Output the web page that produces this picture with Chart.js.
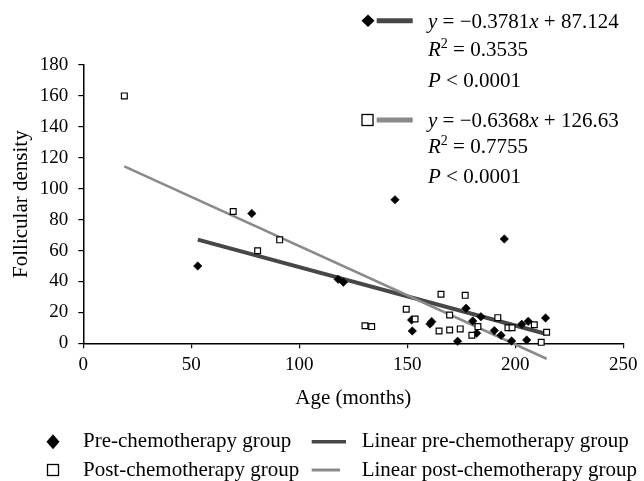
<!DOCTYPE html>
<html>
<head>
<meta charset="utf-8">
<script src="https://cdn.jsdelivr.net/npm/chart.js@4.4.1/dist/chart.umd.min.js"></script>
<style>
html,body{margin:0;padding:0;background:#ffffff;}
#wrap{width:644px;height:481px;position:relative;}
</style>
</head>
<body>
<div id="wrap"><canvas id="c" width="644" height="481"></canvas></div>
<script>
// ---- data ----
const preAge     = [53, 78, 118, 120.4, 144.3, 194.9, 152, 152.3, 160.5, 161.3, 173.3, 177.2, 180.3, 182.1, 184.1, 190.3, 193.4, 198.3, 203, 205.3, 206, 214];
const preDensity = [50, 84, 41.4, 39.5, 92.8, 67.5, 15.1, 8, 12.5, 14, 1.3, 22.6, 14.4, 6.5, 17.2, 8.2, 5.2, 1.5, 12.3, 2.1, 14.2, 16.4];
const postAge     = [19, 69.4, 80.7, 90.9, 130.4, 133.5, 149.5, 153.6, 165.6, 164.7, 169.6, 169.6, 174.5, 176.8, 179.9, 182.7, 191.9, 196.6, 198.5, 208.8, 212, 214.5];
const postDensity = [160, 85.2, 59.9, 66.9, 11.4, 10.8, 22, 15.7, 31.7, 8, 18.3, 8.6, 9.3, 31, 5.2, 10.8, 16.6, 10.1, 10.1, 12, 0.6, 7.1];
// regression line end points (from y = -0.3781x + 87.124 and y = -0.6368x + 126.63)
const preTrendAge      = [53, 214];
const preTrendDensity  = [67.1, 6.2];
const postTrendAge     = [19, 214.5];
const postTrendDensity = [114.5, -10.0];
// axis ticks
const xTickValues = [0, 50, 100, 150, 200, 250];
const yTickValues = [0, 20, 40, 60, 80, 100, 120, 140, 160, 180];
// texts
const seriesNames = ['Pre-chemotherapy group', 'Post-chemotherapy group', 'Linear pre-chemotherapy group', 'Linear post-chemotherapy group'];
const preStats  = { slope: '0.3781', intercept: '87.124', r2: '0.3535', p: '0.0001' };
const postStats = { slope: '0.6368', intercept: '126.63', r2: '0.7755', p: '0.0001' };

const FAMILY = '"Liberation Serif", "Times New Roman", serif';
const DARK = '#474747';
const GRAY = '#8a8a8a';

function pts(xs, ys) { return xs.map((x, i) => ({ x: x, y: ys[i] })); }

function drawDiamond(ctx, x, y, hw, hh) {
  ctx.beginPath();
  ctx.moveTo(x, y - hh); ctx.lineTo(x + hw, y); ctx.lineTo(x, y + hh); ctx.lineTo(x - hw, y);
  ctx.closePath(); ctx.fillStyle = '#000'; ctx.fill();
}
function drawSquare(ctx, x, y, s) {
  ctx.fillStyle = '#fff'; ctx.fillRect(x - s / 2, y - s / 2, s, s);
  ctx.lineWidth = 1.3; ctx.strokeStyle = '#000'; ctx.strokeRect(x - s / 2, y - s / 2, s, s);
}
function drawSeg(ctx, x1, x2, y, w, c) {
  ctx.beginPath(); ctx.moveTo(x1, y); ctx.lineTo(x2, y);
  ctx.lineWidth = w; ctx.strokeStyle = c; ctx.lineCap = 'butt'; ctx.stroke();
}
// draw a run of [text, italic?, superscript?] pieces
function drawRich(ctx, x, y, parts, size) {
  ctx.textBaseline = 'alphabetic'; ctx.textAlign = 'left'; ctx.fillStyle = '#000';
  let cx = x;
  parts.forEach(p => {
    const [t, it, sup] = p;
    const sz = sup ? Math.round(size * 0.65) : size;
    ctx.font = (it ? 'italic ' : '') + sz + 'px ' + FAMILY;
    ctx.fillText(t, cx, sup ? y - size * 0.38 : y);
    cx += ctx.measureText(t).width;
  });
}

const annotationPlugin = {
  id: 'annot',
  afterDraw(chart) {
    const ctx = chart.ctx;
    ctx.save();
    const es = 21;
    // upper-right regression key
    drawSeg(ctx, 376.7, 412.7, 20.7, 5, DARK);
    drawDiamond(ctx, 368, 20.7, 6.5, 6.2);
    drawRich(ctx, 428, 27.5, [['y', true], [' = \u2212' + preStats.slope], ['x', true], [' + ' + preStats.intercept]], es);
    drawRich(ctx, 428, 56, [['R', true], ['2', false, true], [' = ' + preStats.r2]], es);
    drawRich(ctx, 428, 86.5, [['P', true], [' < ' + preStats.p]], es);

    drawSeg(ctx, 376.7, 412.7, 120, 5, GRAY);
    drawSquare(ctx, 367.5, 120, 11);
    drawRich(ctx, 428, 126.5, [['y', true], [' = \u2212' + postStats.slope], ['x', true], [' + ' + postStats.intercept]], es);
    drawRich(ctx, 428, 153, [['R', true], ['2', false, true], [' = ' + postStats.r2]], es);
    drawRich(ctx, 428, 183, [['P', true], [' < ' + postStats.p]], es);

    // bottom legend
    ctx.font = '21px ' + FAMILY; ctx.fillStyle = '#000'; ctx.textBaseline = 'middle'; ctx.textAlign = 'left';
    drawDiamond(ctx, 53, 441.7, 6.5, 7.5);
    ctx.fillStyle = '#000'; ctx.fillText(seriesNames[0], 83, 441.7);
    drawSeg(ctx, 311.7, 346, 441.7, 3.5, DARK);
    ctx.fillStyle = '#000'; ctx.fillText(seriesNames[2], 361.7, 441.7);
    drawSquare(ctx, 53, 470, 11);
    ctx.fillStyle = '#000'; ctx.fillText(seriesNames[1], 83, 470);
    drawSeg(ctx, 311.7, 340, 470, 3, GRAY);
    ctx.fillStyle = '#000'; ctx.fillText(seriesNames[3], 361.7, 470);
    ctx.restore();
  }
};

const chart = new Chart(document.getElementById('c'), {
  type: 'scatter',
  data: {
    datasets: [
      { label: seriesNames[0], data: pts(preAge, preDensity), pointStyle: 'rectRot', pointRadius: 4.3, pointHoverRadius: 4.3,
        backgroundColor: '#000', borderColor: '#000', borderWidth: 0.5, showLine: false, clip: false, order: 1 },
      { label: seriesNames[1], data: pts(postAge, postDensity), pointStyle: 'rect', pointRadius: 4.1, pointHoverRadius: 4.1,
        backgroundColor: '#fff', borderColor: '#000', borderWidth: 1.2, showLine: false, clip: false, order: 0 },
      { label: seriesNames[2], data: pts(preTrendAge, preTrendDensity), showLine: true, pointRadius: 0, borderColor: DARK,
        borderWidth: 4, backgroundColor: DARK, clip: false, order: 3 },
      { label: seriesNames[3], data: pts(postTrendAge, postTrendDensity), showLine: true, pointRadius: 0, borderColor: GRAY,
        borderWidth: 2.5, backgroundColor: GRAY, clip: false, order: 2 }
    ]
  },
  options: {
    responsive: false,
    animation: false,
    devicePixelRatio: 1,
    layout: { padding: { left: 0, top: 65, right: 20.7, bottom: 0 } },
    plugins: { legend: { display: false }, tooltip: { enabled: false } },
    scales: {
      x: {
        type: 'linear', position: 'bottom', min: 0, max: 250,
        afterBuildTicks: s => { s.ticks = xTickValues.map(v => ({ value: v })); },
        afterFit: s => { s.height = 137.7; },
        grid: { display: true, drawOnChartArea: false, drawTicks: true, tickLength: 5, color: '#000', lineWidth: 1.2 },
        border: { display: true, color: '#000', width: 1.5 },
        ticks: { padding: 5.5, color: '#000', font: { family: FAMILY, size: 19 }, maxRotation: 0, autoSkip: false },
        title: { display: true, text: 'Age (months)', color: '#000', font: { family: FAMILY, size: 21 }, padding: { top: 0, bottom: 70.4 } }
      },
      y: {
        type: 'linear', position: 'left', min: 0, max: 180,
        afterBuildTicks: s => { s.ticks = yTickValues.map(v => ({ value: v })); },
        afterFit: s => { s.width = 83.3; },
        grid: { display: true, drawOnChartArea: false, drawTicks: true, tickLength: 5, color: '#000', lineWidth: 1.2 },
        border: { display: true, color: '#000', width: 1.5 },
        ticks: { padding: 10, color: '#000', font: { family: FAMILY, size: 19 }, autoSkip: false },
        title: { display: true, text: 'Follicular density', color: '#000', font: { family: FAMILY, size: 21 }, padding: { top: 9.1, bottom: 0 } }
      }
    }
  },
  plugins: [annotationPlugin]
});
</script>
</body>
</html>
